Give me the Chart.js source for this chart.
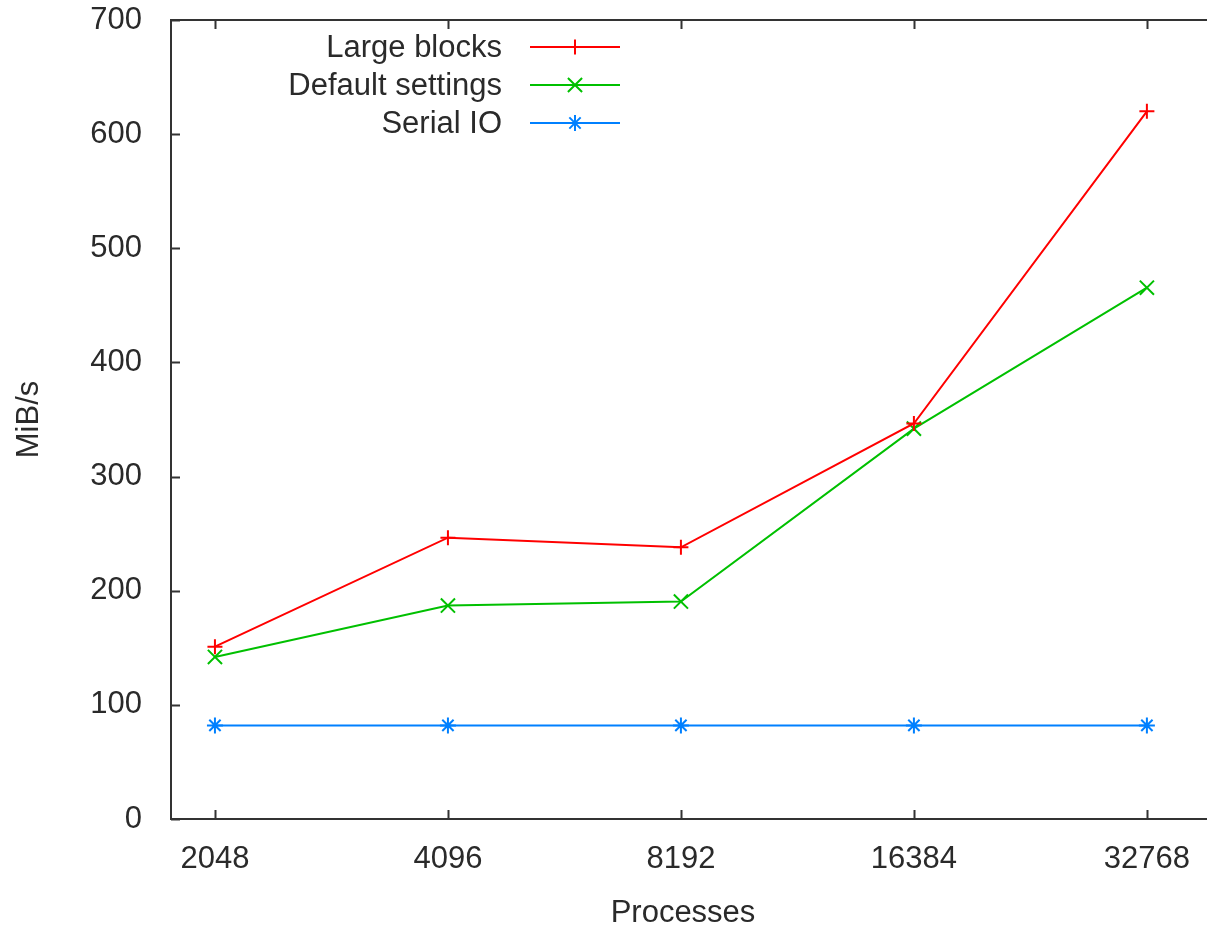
<!DOCTYPE html>
<html>
<head>
<meta charset="utf-8">
<title>MiB/s vs Processes</title>
<script src="https://cdn.jsdelivr.net/npm/chart.js@4/dist/chart.umd.min.js"></script>
<style>
  html, body { margin: 0; padding: 0; background: #fff; overflow: hidden; }
  #wrap { position: relative; width: 1207px; height: 927px; }
</style>
</head>
<body>
<div id="wrap"><canvas id="chart"></canvas></div>
<script>
// Process counts (x) and measured throughput in MiB/s for each configuration
const processes = [2048, 4096, 8192, 16384, 32768];
const largeBlocks = [151, 246.5, 238, 346.5, 620];
const defaultSettings = [142, 187, 190.5, 342, 465.5];
const serialIO = [82, 82, 82, 82, 82];
const yTicks = [0, 100, 200, 300, 400, 500, 600, 700];

const seriesNames = ['Large blocks', 'Default settings', 'Serial IO'];
const seriesColors = ['#ff0000', '#00c000', '#0080ff'];
const seriesMarkers = ['cross', 'crossRot', 'star'];
const markerSizes = [7.5, 10, 8];

const FONT = '"Liberation Sans", Arial, sans-serif';
const INK = '#2a2a2a';

function pts(values) {
  return processes.map((p, i) => ({ x: p, y: values[i] }));
}

const datasets = [largeBlocks, defaultSettings, serialIO].map((vals, i) => ({
  label: seriesNames[i],
  data: pts(vals),
  borderColor: seriesColors[i],
  backgroundColor: seriesColors[i],
  borderWidth: 2,
  pointStyle: seriesMarkers[i],
  pointRadius: markerSizes[i],
  pointBorderWidth: 2,
  pointHoverRadius: markerSizes[i],
  tension: 0,
  fill: false,
  clip: false
}));

// Border box with inward tick marks (gnuplot style) and the x tick labels
const frame = {
  id: 'frame',
  afterDatasetsDraw(chart) {
    const { ctx, chartArea: a, scales } = chart;
    const tl = 9;
    ctx.save();
    ctx.strokeStyle = '#333';
    ctx.lineWidth = 2;
    ctx.beginPath();
    ctx.moveTo(chart.width + 2, a.top);
    ctx.lineTo(a.left, a.top);
    ctx.lineTo(a.left, a.bottom);
    ctx.lineTo(chart.width + 2, a.bottom);
    ctx.stroke();
    ctx.beginPath();
    processes.forEach(p => {
      const x = Math.round(scales.x.getPixelForValue(p)) + 0.5;
      ctx.moveTo(x, a.bottom);
      ctx.lineTo(x, a.bottom - tl);
      ctx.moveTo(x, a.top);
      ctx.lineTo(x, a.top + tl);
    });
    yTicks.forEach(v => {
      const y = Math.round(scales.y.getPixelForValue(v)) + 0.5;
      ctx.moveTo(a.left, y);
      ctx.lineTo(a.left + tl, y);
    });
    ctx.stroke();

    ctx.fillStyle = INK;
    ctx.font = '31px ' + FONT;
    ctx.textAlign = 'center';
    ctx.textBaseline = 'alphabetic';
    processes.forEach(p => {
      ctx.fillText(String(p), scales.x.getPixelForValue(p), a.bottom + 49);
    });
    ctx.restore();
  }
};

// Legend: right-aligned names followed by a line sample with its marker
const keyBox = {
  id: 'keyBox',
  afterDraw(chart) {
    const { ctx } = chart;
    const textRight = 502, lineX0 = 530, lineX1 = 620, y0 = 47, dy = 38;
    ctx.save();
    ctx.font = '31px ' + FONT;
    ctx.textAlign = 'right';
    ctx.textBaseline = 'middle';
    chart.data.datasets.forEach((ds, i) => {
      const y = y0 + i * dy;
      ctx.fillStyle = INK;
      ctx.fillText(ds.label, textRight, y + 1);
      ctx.strokeStyle = ds.borderColor;
      ctx.lineWidth = 2;
      ctx.beginPath();
      ctx.moveTo(lineX0, y);
      ctx.lineTo(lineX1, y);
      ctx.stroke();
      Chart.helpers.drawPoint(ctx, {
        pointStyle: ds.pointStyle,
        radius: ds.pointRadius,
        borderWidth: 2,
        rotation: 0
      }, (lineX0 + lineX1) / 2, y);
    });
    ctx.restore();
  }
};

new Chart(document.getElementById('chart'), {
  type: 'line',
  data: { datasets },
  plugins: [frame, keyBox],
  options: {
    responsive: true,
    maintainAspectRatio: false,
    animation: false,
    layout: { padding: { top: 20, right: 0, bottom: 0, left: 0 } },
    plugins: { legend: { display: false }, tooltip: { enabled: false } },
    scales: {
      x: {
        type: 'logarithmic',
        bounds: 'data',
        min: 1797,
        max: 37810,
        afterBuildTicks(scale) {
          scale.ticks = processes.map(v => ({ value: v }));
        },
        afterFit(scale) {
          scale.height = 108;
        },
        grid: { display: false, drawTicks: false },
        border: { display: false },
        ticks: { display: false },
        title: {
          display: true,
          text: 'Processes',
          color: INK,
          font: { family: FONT, size: 31, lineHeight: 1 },
          padding: { top: 0, bottom: -2 }
        }
      },
      y: {
        min: 0,
        max: 700,
        afterBuildTicks(scale) {
          scale.ticks = yTicks.map(v => ({ value: v }));
        },
        afterFit(scale) {
          scale.width = 171;
          scale.paddingTop = 0;
          scale.paddingBottom = 0;
        },
        grid: { display: false, drawTicks: false },
        border: { display: false },
        ticks: {
          padding: 29,
          color: INK,
          font: { family: FONT, size: 31 }
        },
        title: {
          display: true,
          text: 'MiB/s',
          color: INK,
          font: { family: FONT, size: 31, lineHeight: 1 },
          padding: { top: 14, bottom: 0 }
        }
      }
    }
  }
});
</script>
</body>
</html>
